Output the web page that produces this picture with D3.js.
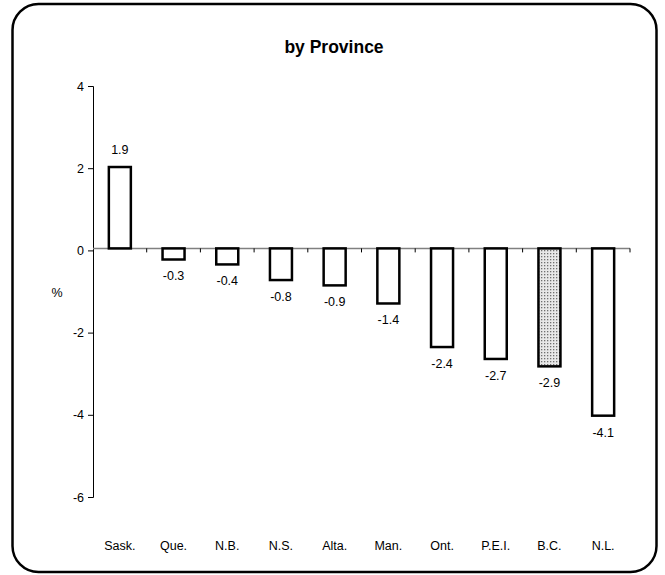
<!DOCTYPE html>
<html><head><meta charset="utf-8">
<script src="https://cdn.jsdelivr.net/npm/d3@7/dist/d3.min.js"></script>
<style>body{margin:0;background:#fff}svg{display:block}text{font-family:Arial,"Liberation Sans",sans-serif}</style>
</head><body>
<svg id="c" width="665" height="575"></svg>
<script>
const categories = ["Sask.","Que.","N.B.","N.S.","Alta.","Man.","Ont.","P.E.I.","B.C.","N.L."];
const values = [1.98,-0.27,-0.39,-0.77,-0.9,-1.34,-2.4,-2.69,-2.87,-4.07];
const valueLabels = ["1.9","-0.3","-0.4","-0.8","-0.9","-1.4","-2.4","-2.7","-2.9","-4.1"];
const highlighted = ["B.C."];
const yTicks = [4,2,0,-2,-4,-6];
const yTickLabels = ["4","2","0","-2","-4","-6"];
const title = "by Province";
const FONT = "Arial, 'Liberation Sans', sans-serif";

const svg = d3.select("#c");
const defs = svg.append("defs");
const pat = defs.append("pattern").attr("id","dots").attr("width",3).attr("height",3).attr("patternUnits","userSpaceOnUse");
pat.append("rect").attr("width",3).attr("height",3).attr("fill","#e8e8e8");
pat.append("rect").attr("x",1).attr("y",1).attr("width",1.3).attr("height",1.3).attr("fill","#707070");

// frame
svg.append("rect").attr("x",12.5).attr("y",4).attr("width",644).attr("height",568)
  .attr("rx",26).attr("ry",26).attr("fill","#fff").attr("stroke","#000").attr("stroke-width",2.5);

svg.append("text").attr("x",334).attr("y",53).attr("text-anchor","middle").attr("font-family",FONT)
  .attr("font-size",17.5).attr("font-weight","bold").text(title);

const y = d3.scaleLinear().domain([-6,4]).range([497,86]);
const x = d3.scaleBand().domain(categories).range([93,630]).paddingInner(0).paddingOuter(0);
const bw = 22;

// y axis
const yAxis = d3.axisLeft(y).tickValues(yTicks).tickSize(5).tickPadding(4).tickFormat((d,i)=>yTickLabels[i]);
const ya = svg.append("g").attr("transform","translate(93,0)").call(yAxis).attr("font-family",FONT);
ya.select(".domain").attr("stroke","#000").attr("stroke-width",1);
ya.selectAll(".tick line").attr("stroke","#000");
ya.selectAll(".tick text").attr("font-size",12.5).attr("fill","#000");

svg.append("text").attr("x",57).attr("y",297).attr("text-anchor","middle").attr("font-family",FONT).attr("font-size",12.5).text("%");

// x axis (zero line)
const y0 = y(0) - 2;
svg.append("line").attr("x1",93).attr("x2",630).attr("y1",y0).attr("y2",y0).attr("stroke","#808080").attr("stroke-width",1.5);
const bounds = categories.map(c=> x(c)+x.bandwidth());
svg.append("g").selectAll("line").data(bounds).join("line")
  .attr("x1",d=>d).attr("x2",d=>d).attr("y1",y0).attr("y2",y0+4).attr("stroke","#000").attr("stroke-width",1);

// bars
const yb = v => y(v) - 2;
svg.append("g").selectAll("rect").data(categories).join("rect")
  .attr("x",(c)=>x(c)+x.bandwidth()/2-bw/2)
  .attr("y",(c,i)=>Math.min(yb(values[i]),y0))
  .attr("width",bw)
  .attr("height",(c,i)=>Math.abs(yb(values[i])-y0))
  .attr("fill",c=>highlighted.includes(c)?"url(#dots)":"#fff")
  .attr("stroke","#000").attr("stroke-width",2.5);

// value labels
svg.append("g").attr("font-family",FONT).selectAll("text").data(categories).join("text")
  .attr("x",c=>x(c)+x.bandwidth()/2)
  .attr("y",(c,i)=>values[i]>=0 ? yb(values[i])-13 : yb(values[i])+21)
  .attr("text-anchor","middle").attr("font-size",12.5)
  .text((c,i)=>valueLabels[i]);

// category labels
svg.append("g").attr("font-family",FONT).selectAll("text").data(categories).join("text")
  .attr("x",c=>x(c)+x.bandwidth()/2).attr("y",550)
  .attr("text-anchor","middle").attr("font-size",12.5).text(c=>c);
</script>
</body></html>
